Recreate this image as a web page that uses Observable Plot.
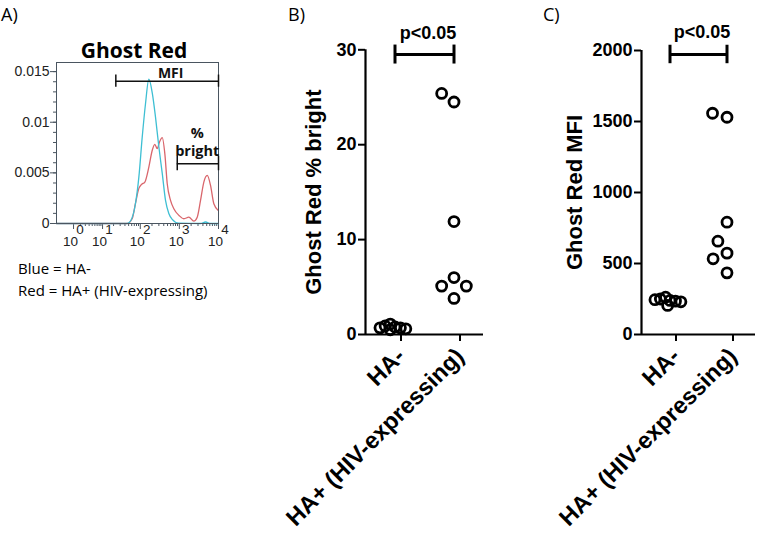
<!DOCTYPE html>
<html><head><meta charset="utf-8">
<script src="https://cdn.jsdelivr.net/npm/d3@7"></script>
<script src="https://cdn.jsdelivr.net/npm/@observablehq/plot@0.6"></script>
<style>
body{margin:0;background:#fff;}
#wrap{position:relative;width:758px;height:534px;overflow:hidden;background:#fff;}
.abs{position:absolute;white-space:nowrap;line-height:1;color:#000;}
.panel{position:absolute;top:0;}
.panel svg{overflow:visible;}
</style></head><body>
<div id="wrap">
  <div class="abs" style="left:1px;top:2px;font:18px 'Open Sans';">A)</div>
  <div class="abs" style="left:288px;top:2px;font:18px 'Open Sans';">B)</div>
  <div class="abs" style="left:543px;top:2px;font:18px 'Open Sans';">C)</div>
  <div class="abs" style="left:34px;width:200px;text-align:center;top:36px;font:bold 21px 'Open Sans';">Ghost Red</div>
  <div id="pa" class="panel" style="left:0px"></div>
  <div id="pb" class="panel" style="left:240px"></div>
  <div id="pc" class="panel" style="left:500px"></div>
  <div class="abs" style="left:18px;top:258px;font:15px 'Open Sans';">Blue = HA-</div>
  <div class="abs" style="left:18px;top:280px;font:15px 'Open Sans';">Red = HA+ (HIV-expressing)</div>
</div>
<script>
// ---------- Panel A: histogram data (fluorescence, density) ----------
const blueFluor   = [-0.36, 10, 46, 57, 75, 92, 112, 136, 166, 203, 246, 299, 366, 444, 539, 659, 954, 3480, 4670, 6262, 10000];
const blueDensity = [0, 0, 0, 0.0003, 0.00195, 0.0046, 0.0085, 0.0118, 0.01426, 0.0129, 0.0105, 0.0076, 0.00495, 0.00228, 0.00099, 0.0004, 0.00003, 0, 0.00015, 0, 0];
const redFluor    = [-0.36, 10, 46, 62, 75, 92, 108, 131, 166, 203, 236, 272, 312, 366, 426, 491, 596, 724, 985, 1304, 1748, 2346, 2865, 3480, 4224, 5157, 6262, 7603, 9853];
const redDensity  = [0, 0, 0, 0.0005, 0.00198, 0.00347, 0.00386, 0.00409, 0.00557, 0.00723, 0.00782, 0.0074, 0.00805, 0.00848, 0.0069, 0.00393, 0.00228, 0.00146, 0.00079, 0.00047, 0.00062, 0.00023, 0.00062, 0.00228, 0.00409, 0.00475, 0.00376, 0.00195, 0.00129];
const decadeTicks = [1, 10, 100, 1000, 10000];
const densityTicks = [0, 0.005, 0.01, 0.015];
const mfiGate = [23, 10000];
const mfiGateLevel = 0.01406;
const brightGate = [885, 10000];
const brightGateLevel = 0.00591;

// ---------- Panels B and C: scatter data ----------
const groups = ["HA-", "HA+ (HIV-expressing)"];
const pctBrightHAneg = [0.8, 1.1, 0.7, 0.9, 0.6, 0.7, 0.5];
const pctBrightHApos = [24.5, 25.4, 11.9, 6.0, 5.1, 5.1, 3.8];
const mfiHAneg = [240, 263, 235, 250, 230, 245, 205];
const mfiHApos = [1530, 1558, 791, 573, 657, 533, 434];
const pctTicks = [0, 10, 20, 30];
const mfiTicks = [0, 500, 1000, 1500, 2000];

const blueRows = blueFluor.map((x, i) => ({x, y: blueDensity[i]}));
const redRows = redFluor.map((x, i) => ({x, y: redDensity[i]}));
const minorX = [1, 10, 100, 1000].flatMap(p => [2,3,4,5,6,7,8,9].map(m => m * p));
const minorY = d3.range(0, 16).map(i => i / 1000);
const frameColor = "#4a5560";

const plotA = Plot.plot({
  width: 240, height: 300,
  marginLeft: 56, marginRight: 22, marginTop: 62, marginBottom: 77,
  x: {type: "symlog", constant: 1, domain: [-0.36, 10000]},
  y: {domain: [0, 0.0159]},
  style: {fontFamily: "'Liberation Sans', Arial, sans-serif", fontSize: "14px", color: "#222", background: "transparent", overflow: "visible"},
  marks: [
    Plot.axisY({ticks: minorY, tickSize: 3, tickFormat: () => "", stroke: frameColor, label: null}),
    Plot.axisY({ticks: densityTicks, tickSize: 6, tickPadding: 1, stroke: frameColor, fontSize: 14, tickFormat: d => String(d), label: null}),
    Plot.axisX({ticks: minorX, tickSize: 3, tickFormat: () => "", stroke: frameColor, label: null}),
    Plot.axisX({ticks: decadeTicks, tickSize: 6, tickFormat: () => "", stroke: frameColor, label: null}),
    Plot.text(decadeTicks, {x: d => d, frameAnchor: "bottom", text: () => "10", dy: 22, dx: -3, lineAnchor: "bottom", fontSize: 13.5}),
    Plot.text(decadeTicks, {x: d => d, frameAnchor: "bottom", text: d => String(Math.round(Math.log10(d))), dy: 10, dx: 6.5, lineAnchor: "bottom", fontSize: 13.5}),
    Plot.line(redRows, {x: "x", y: "y", stroke: "#d9666c", strokeWidth: 1.3, curve: "monotone-x"}),
    Plot.line(blueRows, {x: "x", y: "y", stroke: "#3ebfd3", strokeWidth: 1.3, curve: "monotone-x"}),
    Plot.frame({stroke: frameColor}),
    Plot.ruleY([mfiGateLevel], {x1: mfiGate[0], x2: mfiGate[1], stroke: "#111", strokeWidth: 1.5}),
    Plot.ruleX(mfiGate, {x: d => d, y1: mfiGateLevel - 0.0006, y2: mfiGateLevel + 0.0006, stroke: "#111", strokeWidth: 1.5}),
    Plot.ruleY([brightGateLevel], {x1: brightGate[0], x2: brightGate[1], stroke: "#111", strokeWidth: 1.5}),
    Plot.ruleX(brightGate, {x: d => d, y1: brightGateLevel - 0.0007, y2: brightGateLevel + 0.0007, stroke: "#111", strokeWidth: 1.5}),
    Plot.text(["MFI"], {x: 600, y: 0.01436, text: d => d, lineAnchor: "bottom", fontFamily: "'Open Sans'", fontWeight: "bold", fontSize: 14, fill: "#111"}),
    Plot.text(["%\nbright"], {x: 2865, y: 0.00663, text: d => d, lineAnchor: "bottom", lineHeight: 1.3, fontFamily: "'Open Sans'", fontWeight: "bold", fontSize: 14.5, fill: "#111"})
  ]
});
document.getElementById("pa").appendChild(plotA);

function scatterPanel(o) {
  const rows = [
    ...o.neg.map(v => ({group: groups[0], value: v})),
    ...o.pos.map(v => ({group: groups[1], value: v}))
  ];
  const dotStyle = {fx: "group", y: "value", r: 5, stroke: "#000", strokeWidth: 2.8, fill: "none"};
  return Plot.plot({
    width: o.width, height: 534,
    marginLeft: o.ml, marginRight: o.mr, marginTop: o.mt, marginBottom: 200,
    fx: {domain: groups, padding: 0, label: null},
    x: {domain: [0, 1], axis: null},
    y: {domain: [0, o.yMax], axis: null},
    style: {fontFamily: "'Liberation Sans', Arial, sans-serif", fontSize: "18px", fontWeight: "bold", color: "#000", background: "transparent", overflow: "visible"},
    marks: [
      Plot.axisY({ticks: o.yTicks, tickSize: 7, tickPadding: 2, strokeWidth: 2, fontSize: 18, fontWeight: "bold", tickFormat: d => String(d), label: null}),
      Plot.axisFx({anchor: "bottom", tickRotate: -45, tickSize: 7, tickPadding: 11, dx: 6, strokeWidth: 2, fontSize: 23.5, fontWeight: "bold", label: null}),
      Plot.ruleY([0], {strokeWidth: 2.2}),
      Plot.ruleX([0], {fx: [groups[0]], x: d => d, y1: 0, y2: o.yMax, strokeWidth: 2.2}),
      Plot.dot(rows.filter(d => d.group === groups[0]), Plot.dodgeX({anchor: "middle", padding: -4.5}, dotStyle)),
      Plot.dot(rows.filter(d => d.group === groups[1]), Plot.dodgeX({anchor: "middle", padding: 5}, dotStyle)),
      Plot.ruleY([o.sigLevel], {fx: [groups[0]], x1: 0.5, x2: 1.5, strokeWidth: 3}),
      Plot.ruleX([0.5], {fx: [groups[0]], x: d => d, y1: o.sigLevel - o.capHalf, y2: o.sigLevel + o.capHalf, strokeWidth: 3}),
      Plot.ruleX([0.5], {fx: [groups[1]], x: d => d, y1: o.sigLevel - o.capHalf, y2: o.sigLevel + o.capHalf, strokeWidth: 3}),
      Plot.text(["p<0.05"], {fx: [groups[0]], x: 1.06, y: o.pLevel, text: d => d, lineAnchor: "bottom", fontSize: 18, fontWeight: "bold"}),
      Plot.text([o.ylabel], {fx: [groups[0]], frameAnchor: "left", rotate: -90, dx: o.labelDx, text: d => d, textAnchor: "middle", lineAnchor: "bottom", fontSize: 22, fontWeight: "bold"})
    ]
  });
}

document.getElementById("pb").appendChild(scatterPanel({
  neg: pctBrightHAneg, pos: pctBrightHApos, yMax: 30, yTicks: pctTicks,
  width: 260, ml: 125, mr: 17, mt: 49.3,
  sigLevel: 29.5, capHalf: 1.0, pLevel: 31.1,
  ylabel: "Ghost Red % bright", labelDx: -45
}));
document.getElementById("pc").appendChild(scatterPanel({
  neg: mfiHAneg, pos: mfiHApos, yMax: 2000, yTicks: mfiTicks,
  width: 258, ml: 140, mr: 3, mt: 50,
  sigLevel: 1972, capHalf: 65, pLevel: 2085,
  ylabel: "Ghost Red MFI", labelDx: -60
}));
</script>
</body></html>
